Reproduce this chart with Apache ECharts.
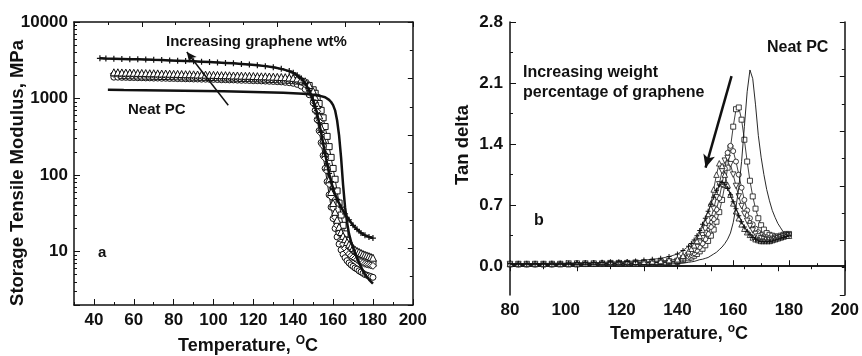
<!DOCTYPE html>
<html><head><meta charset="utf-8">
<script src="https://cdn.jsdelivr.net/npm/echarts@6/dist/echarts.min.js"></script>
<style>
html,body{margin:0;padding:0;background:#fff;width:862px;height:356px;overflow:hidden}
#ca{position:absolute;left:0;top:0;width:430px;height:356px}
#cb{position:absolute;left:430px;top:0;width:432px;height:356px}
</style>
</head><body><div id="ca"></div><div id="cb"></div>
<script>
// ---------------- Panel a : storage tensile modulus (MPa) ----------------
const tempA = [50,52,54,56,58,60,62,64,66,68,70,72,74,76,78,80,82,84,86,88,90,92,94,96,98,100,102,104,106,108,110,112,114,116,118,120,122,124,126,128,130,132,134,136,138,140,142,144,146,148,150,151,152,153,154,155,156,157,158,159,160,161,162,163,164,165,166,167,168,169,170,171,172,173,174,175,176,177,178,179,180];
const modTri = [2200,2200,2190,2180,2180,2170,2160,2160,2150,2140,2140,2130,2120,2120,2110,2100,2100,2090,2080,2080,2070,2060,2060,2050,2040,2040,2030,2020,2020,2010,2000,2000,1990,1980,1980,1970,1960,1950,1950,1940,1930,1920,1910,1900,1880,1860,1830,1780,1680,1500,1250,1050,820,600,420,290,195,130,88,60,43,33,26,21,18,16,14.5,13.3,12.4,11.7,11.1,10.6,10.2,9.9,9.6,9.3,9.1,8.9,8.7,8.5,8.3];
const modDia = [2100,2100,2090,2080,2080,2070,2060,2060,2050,2040,2040,2030,2020,2020,2010,2000,2000,1990,1980,1980,1970,1960,1960,1950,1940,1940,1930,1920,1920,1910,1900,1900,1890,1880,1880,1870,1860,1850,1850,1840,1830,1820,1810,1800,1780,1760,1720,1650,1530,1330,1080,880,680,500,350,240,165,112,76,52,37,28,22,17.5,14.5,12.5,11,10,9.3,8.8,8.4,8.1,7.8,7.5,7.3,7.1,6.9,6.8,6.7,6.6,6.5];
const modCir = [1900,1900,1890,1890,1880,1880,1870,1870,1860,1860,1850,1850,1840,1840,1830,1830,1820,1820,1810,1810,1800,1800,1790,1790,1780,1780,1770,1760,1760,1750,1750,1740,1730,1730,1720,1710,1710,1700,1690,1680,1670,1660,1650,1630,1610,1580,1530,1450,1320,1120,880,700,530,380,265,180,122,82,55,38,27,20,15.5,12.5,10.5,9.2,8.3,7.6,7.1,6.7,6.4,6.1,5.9,5.6,5.4,5.2,5.0,4.9,4.8,4.7,4.6];
const modSqr = [null,null,1990,1990,1980,1980,1970,1970,1960,1960,1950,1950,1940,1940,1930,1930,1920,1920,1910,1910,1900,1900,1890,1890,1880,1880,1870,1860,1860,1850,1850,1840,1830,1830,1820,1810,1810,1800,1790,1780,1770,1760,1750,1740,1730,1710,1690,1660,1600,1480,1300,1170,1020,860,700,560,430,320,235,170,122,88,62,43,30,22,17,14,12.2,11,10.2,9.6,9.1,8.7,8.3,8.0,7.7,7.5,7.3,7.1,7.0];
const tempPlus = [43,46,50,54,58,62,66,70,74,78,82,86,90,94,98,102,106,110,114,118,122,126,130,134,138,140,142,144,146,148,150,151,152,153,154,155,156,157,158,159,160,162,164,166,168,170,172,174,176,178,180];
const modPlus = [3350,3330,3310,3290,3270,3250,3230,3200,3180,3150,3120,3090,3060,3030,3000,2960,2920,2880,2830,2780,2720,2650,2560,2440,2280,2170,2020,1830,1580,1280,950,790,630,480,360,260,190,140,105,82,66,48,38,31,26,22,19.5,17.5,16.3,15.5,15];
const tempNeatA = [47,55,65,75,85,95,105,115,125,135,140,145,150,153,156,158,159,160,161,162,163,164,165,166,167,168,169,170,172,174,176,178,180];
const modNeat = [1300,1290,1280,1270,1260,1250,1240,1230,1210,1190,1170,1150,1120,1090,1040,960,900,820,700,520,330,170,75,38,24,17,13.5,11.3,8.2,6.3,5.0,4.3,3.8];
const xTicksA = [40,60,80,100,120,140,160,180,200];
const yTicksA = [10,100,1000,10000];
const yMinorA = [2,3,4,5,6,7,8,9,20,30,40,50,60,70,80,90,200,300,400,500,600,700,800,900,2000,3000,4000,5000,6000,7000,8000,9000];
const arrowA = [[107.4,817],[86.6,4050]];

// ---------------- Panel b : tan delta ----------------
const tempB = [80,83,86,89,92,95,98,101,104,107,110,113,116,119,122,125,128,131,134,137,140,142,144,145,146,147,148,149,150,151,152,153,154,155,156,157,158,159,160,161,162,163,164,165,166,167,168,169,170,171,172,173,174,175,176,177,178,179,180];
const tanNeat = [0.02,0.02,0.02,0.02,0.02,0.02,0.02,0.02,0.02,0.02,0.02,0.02,0.02,0.02,0.02,0.02,0.02,0.02,0.02,0.025,0.03,0.035,0.045,0.05,0.055,0.065,0.075,0.08,0.09,0.1,0.12,0.14,0.16,0.19,0.22,0.26,0.31,0.38,0.5,0.68,0.9,1.2,1.6,2.0,2.25,2.15,1.85,1.5,1.25,1.05,0.88,0.75,0.64,0.56,0.49,0.44,0.39,0.36,0.34];
const tanSqr = [0.02,0.02,0.02,0.02,0.02,0.02,0.02,0.02,0.02,0.025,0.025,0.025,0.03,0.03,0.03,0.03,0.035,0.04,0.04,0.045,0.05,0.07,0.09,0.1,0.12,0.14,0.17,0.2,0.24,0.29,0.35,0.42,0.51,0.62,0.76,0.93,1.13,1.36,1.6,1.8,1.82,1.68,1.45,1.2,0.98,0.8,0.66,0.55,0.47,0.42,0.38,0.36,0.35,0.34,0.34,0.35,0.36,0.37,0.37];
const tanCir = [0.02,0.02,0.02,0.02,0.02,0.02,0.025,0.025,0.025,0.025,0.03,0.03,0.03,0.03,0.035,0.035,0.04,0.04,0.045,0.05,0.05,0.08,0.11,0.13,0.15,0.18,0.22,0.26,0.31,0.37,0.45,0.54,0.65,0.78,0.94,1.12,1.3,1.38,1.32,1.2,1.05,0.9,0.76,0.64,0.55,0.48,0.43,0.39,0.36,0.34,0.33,0.32,0.32,0.33,0.33,0.34,0.35,0.36,0.36];
const tanDown = [0.025,0.025,0.025,0.025,0.025,0.025,0.025,0.03,0.03,0.03,0.03,0.03,0.035,0.035,0.035,0.04,0.04,0.045,0.05,0.055,0.06,0.09,0.13,0.15,0.18,0.22,0.27,0.32,0.38,0.46,0.55,0.66,0.79,0.94,1.09,1.21,1.24,1.17,1.05,0.92,0.8,0.69,0.6,0.52,0.46,0.41,0.37,0.34,0.32,0.31,0.3,0.3,0.3,0.31,0.32,0.33,0.34,0.35,0.35];
const tanUp = [0.03,0.03,0.03,0.03,0.03,0.03,0.03,0.03,0.035,0.035,0.035,0.04,0.04,0.04,0.045,0.05,0.05,0.055,0.06,0.07,0.08,0.12,0.17,0.2,0.24,0.29,0.35,0.42,0.5,0.6,0.72,0.88,1.05,1.18,1.15,1.05,0.93,0.82,0.72,0.63,0.55,0.48,0.43,0.39,0.36,0.33,0.31,0.3,0.29,0.29,0.29,0.29,0.3,0.31,0.32,0.33,0.34,0.35,0.35];
const tanPlus = [0.03,0.03,0.03,0.03,0.03,0.035,0.035,0.035,0.04,0.04,0.04,0.045,0.05,0.05,0.055,0.06,0.07,0.08,0.09,0.11,0.14,0.18,0.23,0.26,0.3,0.35,0.41,0.48,0.55,0.63,0.71,0.79,0.87,0.93,0.96,0.94,0.89,0.82,0.74,0.66,0.58,0.51,0.45,0.4,0.36,0.33,0.31,0.29,0.28,0.28,0.28,0.28,0.29,0.3,0.31,0.32,0.33,0.34,0.35];
const yTicksB = [0,0.7,1.4,2.1,2.8];
const yMinorB = [0.35,1.05,1.75,2.45];
const arrowB = [[159.4,2.18],[150.1,1.13]];

// ---------------- rendering ----------------
const FONT = '"Liberation Sans", Arial, Helvetica, sans-serif';
const INK = '#111';
const PLUS = 'path://M4,0H6V4H10V6H6V10H4V6H0V4H4Z';
function zip(xs, ys){ return xs.map((x,i)=>[x, ys[i]]); }
const lbl = {fontFamily:FONT, fontSize:17, fontWeight:'bold', color:INK};
function frameAxis(pos){
  return {type:'value', min:0, max:10, interval:2, position:pos,
    axisLine:{show:true, lineStyle:{color:INK, width:1.5}},
    axisTick:{show:true, inside:true, length:5, lineStyle:{color:INK}},
    minorTick:{show:true, splitNumber:2, length:3, lineStyle:{color:INK}},
    axisLabel:{show:false}, splitLine:{show:false}};
}
function markSeries(s, sym, size, rot, w){
  w = w || 1;
  return {type:'line', data:s, symbol:sym, symbolSize:size, symbolRotate:rot||0,
    lineStyle:{color:INK, width:w}, itemStyle:{color:'#fff', borderColor:INK, borderWidth:w}, z:2};
}
function txt(x, y, text, size, extra){
  return Object.assign({type:'text', x:x, y:y, style:{text:text, fill:INK,
    font:'bold '+size+'px '+FONT, align:'left', verticalAlign:'middle',
    textAlign:'left', textVerticalAlign:'middle'}}, extra||{});
}
function ctxt(x, y, text, size, rot){
  const t = txt(x, y, text, size, {rotation:rot||0});
  t.style.align = 'center'; t.style.textAlign = 'center';
  return t;
}
function supTitle(x, y, sup){
  return {type:'text', x:x, y:y, style:{
    text:'{a|Temperature, }{s|'+sup+'}{a|C}', fill:INK, align:'center', verticalAlign:'middle',
    textAlign:'center', textVerticalAlign:'middle',
    rich:{a:{fontFamily:FONT, fontWeight:'bold', fontSize:18, lineHeight:21, verticalAlign:'bottom', fill:INK},
          s:{fontFamily:FONT, fontWeight:'bold', fontSize:12, lineHeight:12, verticalAlign:'top', fill:INK}}}};
}

const chartA = echarts.init(document.getElementById('ca'), null, {renderer:'canvas'});
chartA.setOption({
  animation:false, backgroundColor:'#fff',
  grid:{left:74, right:13, top:22, bottom:51},
  xAxis:[
    {type:'value', min:30, max:200, interval:10, position:'bottom',
     axisLine:{lineStyle:{color:INK, width:1.5}},
     axisTick:{inside:true, length:3, lineStyle:{color:INK}},
     axisLabel:Object.assign({margin:7, formatter:v=> xTicksA.indexOf(v)>=0 ? String(v) : ''}, lbl),
     splitLine:{show:false}},
    {type:'value', min:30, max:200, position:'bottom',
     axisLine:{show:false}, axisTick:{inside:true, length:6, customValues:xTicksA, lineStyle:{color:INK}},
     axisLabel:{show:false}, splitLine:{show:false}},
    frameAxis('top')
  ],
  yAxis:[
    {type:'log', logBase:10, min:2, max:10000, position:'left',
     axisLine:{lineStyle:{color:INK, width:1.5}},
     axisTick:{inside:true, length:6, lineStyle:{color:INK}},
     axisLabel:Object.assign({margin:6, formatter:v=>{ const l=Math.log10(v); return (Math.abs(l-Math.round(l))<1e-6 && v>=10) ? String(Math.round(v)) : ''; }}, lbl),
     splitLine:{show:false}},
    {type:'log', logBase:10, min:2, max:10000, position:'left',
     axisLine:{show:false}, axisTick:{inside:true, length:3, customValues:yMinorA, lineStyle:{color:INK}},
     axisLabel:{show:false}, splitLine:{show:false}},
    frameAxis('right')
  ],
  series:[
    {type:'line', data:zip(tempNeatA, modNeat), symbol:'none', lineStyle:{color:INK, width:2.5}, z:3},
    markSeries(zip(tempA, modCir), 'circle', 6),
    markSeries(zip(tempA, modSqr), 'rect', 6),
    markSeries(zip(tempA, modDia), 'diamond', 7),
    markSeries(zip(tempA, modTri), 'triangle', 7),
    {type:'line', data:zip(tempPlus, modPlus), symbol:PLUS, symbolSize:6,
     lineStyle:{color:INK, width:2.5}, itemStyle:{color:INK}, z:4},
    {type:'line', data:[], z:5,
     markLine:{silent:true, symbol:['none','arrow'], symbolSize:[7,10], label:{show:false},
       lineStyle:{color:INK, width:1.5, type:'solid'}, emphasis:{disabled:true},
       data:[[{coord:arrowA[0]},{coord:arrowA[1]}]]}}
  ],
  graphic:[
    txt(166, 42, 'Increasing graphene wt%', 15),
    txt(128, 110, 'Neat PC', 15),
    txt(98, 253, 'a', 15),
    ctxt(18, 173, 'Storage Tensile Modulus, MPa', 18.5, Math.PI/2),
    supTitle(248, 345, 'O')
  ]
});

const chartB = echarts.init(document.getElementById('cb'), null, {renderer:'canvas'});
chartB.setOption({
  animation:false, backgroundColor:'#fff',
  grid:{left:80, right:15, top:22, bottom:61},
  xAxis:[
    {type:'value', min:80, max:200, interval:20, position:'bottom',
     axisLine:{lineStyle:{color:INK, width:1.5}},
     axisTick:{inside:true, length:6, lineStyle:{color:INK}},
     minorTick:{show:true, splitNumber:2, length:3, lineStyle:{color:INK}},
     axisLabel:Object.assign({margin:7}, lbl), splitLine:{show:false}},
    frameAxis('top')
  ],
  yAxis:[
    {type:'value', min:-0.33, max:2.8, position:'left',
     axisLine:{lineStyle:{color:INK, width:1.5}},
     axisTick:{inside:true, length:3, customValues:yMinorB, lineStyle:{color:INK}},
     axisLabel:Object.assign({margin:7, customValues:yTicksB, formatter:v=> (Math.round(v*10)/10).toFixed(1)}, lbl),
     splitLine:{show:false}},
    {type:'value', min:-0.33, max:2.8, position:'left',
     axisLine:{show:false}, axisTick:{inside:true, length:6, customValues:yTicksB, lineStyle:{color:INK}},
     axisLabel:{show:false}, splitLine:{show:false}},
    frameAxis('right')
  ],
  series:[
    {type:'line', data:zip(tempB, tanNeat), symbol:'none', lineStyle:{color:INK, width:0.9}, z:3},
    markSeries(zip(tempB, tanSqr), 'rect', 5, 0, 0.8),
    markSeries(zip(tempB, tanCir), 'circle', 5, 0, 0.8),
    markSeries(zip(tempB, tanDown), 'triangle', 5.5, 180, 0.8),
    markSeries(zip(tempB, tanUp), 'triangle', 5.5, 0, 0.8),
    {type:'line', data:zip(tempB, tanPlus), symbol:PLUS, symbolSize:5,
     lineStyle:{color:INK, width:0.8}, itemStyle:{color:INK}, z:4},
    {type:'line', data:[], z:5,
     markLine:{silent:true, symbol:['none','arrow'], symbolSize:[9,13], label:{show:false},
       lineStyle:{color:INK, width:2.5, type:'solid'}, emphasis:{disabled:true},
       data:[[{coord:arrowB[0]},{coord:arrowB[1]}]]}}
  ],
  graphic:[
    txt(93, 73, 'Increasing weight', 16),
    txt(93, 93, 'percentage of graphene', 16),
    txt(337, 48, 'Neat PC', 16),
    txt(104, 221, 'b', 16),
    ctxt(33, 145, 'Tan delta', 18.5, Math.PI/2),
    supTitle(249, 333, 'o')
  ]
});
</script></body></html>
